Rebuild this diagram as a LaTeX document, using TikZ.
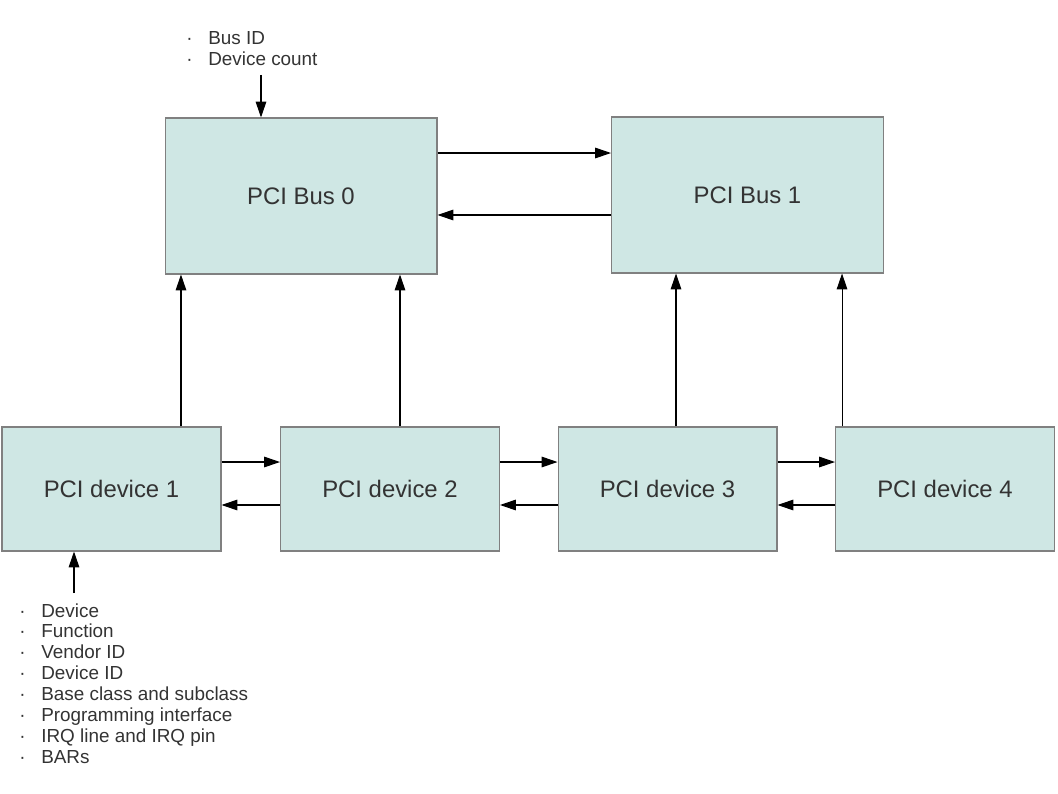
\documentclass[tikz,border=0pt]{standalone}
\usepackage{fontspec}
\setmainfont{Liberation Sans}
\usepackage{tikz}
\usetikzlibrary{arrows.meta}
\usetikzlibrary{positioning}

\definecolor{boxfill}{HTML}{CFE7E4}
\definecolor{boxline}{HTML}{808080}
\definecolor{txt}{HTML}{333333}

\tikzset{
  bus/.style={draw=boxline, fill=boxfill, line width=0.6pt, minimum width=5.44cm, minimum height=3.12cm, text=txt, font=\fontsize{13.6}{16}\selectfont},
  dev/.style={draw=boxline, fill=boxfill, line width=0.6pt, minimum width=4.38cm, minimum height=2.48cm, text=txt, font=\fontsize{13.6}{16}\selectfont},
  info/.style={inner sep=0pt, align=left, text=txt, font=\fontsize{10.75}{11.9}\selectfont},
  arr/.style={-{Triangle[length=9pt,width=6pt]}, line width=0.6pt, black}
}
\newcommand{\bul}{\makebox[12.5pt][l]{\textperiodcentered}}

\begin{document}
\begin{tikzpicture}[x=0.02cm, y=-0.02cm]

\useasboundingbox (0,0) rectangle (1058,794);

\node[bus] (bus0) at (301,196) {PCI Bus 0};
\node[bus] (bus1) at (747.5,195) {PCI Bus 1};

\node[dev] (dev1) at (111.5,489) {PCI device 1};
\node[dev] (dev2) at (390,489) {PCI device 2};
\node[dev] (dev3) at (667.5,489) {PCI device 3};
\node[dev] (dev4) at (945,489) {PCI device 4};

\node[info, anchor=north west] (busInfo) at (186,31) {\bul Bus ID\\ \bul Device count};
\node[info, anchor=north west] (devInfo) at (19,603) {\bul Device\\ \bul Function\\ \bul Vendor ID\\ \bul Device ID\\ \bul Base class and subclass\\ \bul Programming interface\\ \bul IRQ line and IRQ pin\\ \bul BARs};

\coordinate (busIn) at (261,75);
\coordinate (devIn) at (74,593);

% inputs
\draw[arr] (busIn) -- (busIn |- bus0.north);
\draw[arr] (devIn) -- (devIn |- dev1.south);

% bus to bus
\draw[arr] ([yshift=0.86cm]bus0.east) -- ([yshift=0.86cm]bus0.east -| bus1.west);
\draw[arr] ([yshift=-0.4cm]bus1.west) -- ([yshift=-0.4cm]bus1.west -| bus0.east);

% devices up to the buses
\draw[arr] ([xshift=1.39cm]dev1.north) -- ([xshift=1.39cm]dev1.north |- bus0.south);
\draw[arr] ([xshift=0.2cm]dev2.north) -- ([xshift=0.2cm]dev2.north |- bus0.south);
\draw[arr] ([xshift=0.17cm]dev3.north) -- ([xshift=0.17cm]dev3.north |- bus1.south);
\draw[arr] ([xshift=-2.06cm]dev4.north) -- ([xshift=-2.06cm]dev4.north |- bus1.south);

% device chain
\draw[arr] ([yshift=0.54cm]dev1.east) -- ([yshift=0.54cm]dev1.east -| dev2.west);
\draw[arr] ([yshift=-0.32cm]dev2.west) -- ([yshift=-0.32cm]dev2.west -| dev1.east);
\draw[arr] ([yshift=0.54cm]dev2.east) -- ([yshift=0.54cm]dev2.east -| dev3.west);
\draw[arr] ([yshift=-0.32cm]dev3.west) -- ([yshift=-0.32cm]dev3.west -| dev2.east);
\draw[arr] ([yshift=0.54cm]dev3.east) -- ([yshift=0.54cm]dev3.east -| dev4.west);
\draw[arr] ([yshift=-0.32cm]dev4.west) -- ([yshift=-0.32cm]dev4.west -| dev3.east);

\end{tikzpicture}
\end{document}
